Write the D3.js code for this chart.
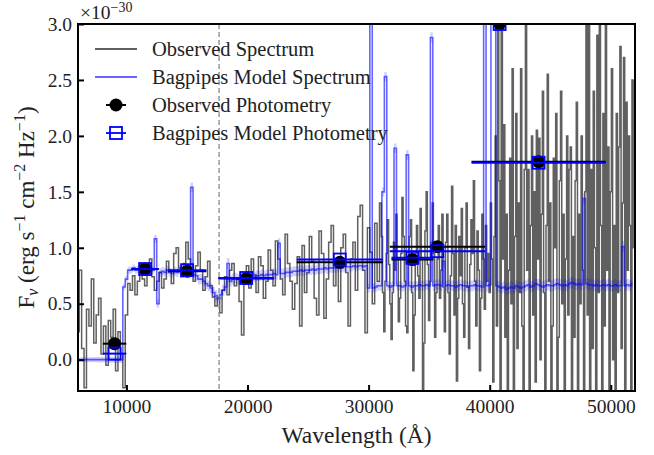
<!DOCTYPE html>
<html><head><meta charset="utf-8">
<script src="https://cdn.jsdelivr.net/npm/d3@7"></script>
<style>
body{margin:0;background:#fff}
svg{display:block}
</style>
</head><body>
<svg id="chart" width="654" height="455"></svg>
<script>
// ---------------- data ----------------
// observed spectrum, part A: 6000-30800 Å on a 200 Å pixel grid
const obsStartA = 6000, obsStepA = 200;
const obsFluxA = [
 0.25, 0.80, 0.10, -0.25, 0.45, 0.30, 0.72, 0.15, 0.40, 0.55, 0.05, 0.30, -0.05, 0.35, 0.20, 0.45, -0.10, 0.25, 0.05, -0.25,
 0.40, 0.68, 0.62, 0.75, 0.58, 0.70, 0.85, 0.72, 0.66, 0.80, 0.90, 0.74, 0.62, 0.70, 0.78, 0.64, 0.72, 0.88, 0.80, 0.68,
 0.95, 1.00, 0.82, 0.74, 0.86, 1.05, 0.90, 0.76, 0.70, 0.84, 0.96, 0.80, 0.62, 0.74, 0.88, 0.66, 0.56, 0.48,
 0.55, 0.42, 0.62, 0.74, 0.58, 0.80, 0.86, 0.66, 0.72, 0.52, 0.22, 0.70, 0.84, 0.64, 0.90, 0.76, 0.60, 0.92, 0.84, 0.55,
 0.70, 0.98, 0.80, 0.66, 1.06, 0.90, 0.72, 0.58, 1.12, 0.86, 0.70, 0.45,
 0.68, 0.92, 0.30, 1.02, 0.60, 0.78, 1.10, 0.88, 0.55, 0.40, 1.15, 0.95, 0.37, 0.72, 1.05, 1.20, 0.66, 0.84, 0.52, 1.00,
 1.12, 0.78, 0.30, 0.90, 1.05, 0.62, 1.28, 1.38, 0.80, 0.24, 1.18, 0.96, 0.50, 1.22, 0.70
];
// observed spectrum, part B: 31000-51900 Å on a 100 Å pixel grid
const obsStartB = 31000, obsStepB = 100;
const obsFluxB = [
 1.40, 1.10, 0.60, 0.25, 0.70, 0.95, 1.25, 0.85, 0.50, 0.18,
 0.60, 1.05, 0.80, 1.30, 0.90, 0.34, 0.55, 0.95, 1.45, 1.10,
 0.70, 0.30, 0.24, 0.85, 1.10, 1.25, 0.60, -0.10, 0.40, 0.95,
 1.20, 0.75, 0.55, 1.35, 0.90, -0.28, 0.15, 1.15, 1.50, 0.85,
 0.35, 0.70, 1.05, 1.40, 0.95, 0.20, 0.60, 0.90, 1.20, 0.55,
 0.80, 1.30, 0.65, 0.25, 1.05, 1.30, 0.60, 0.05, 0.75, 1.55,
 0.95, 0.40, 1.20, -0.19, 0.55, 1.10, 0.75, 1.35, 0.50, 0.20,
 1.00, 1.40, 0.65, 0.10, 0.85, 1.25, 0.95, 1.60, 0.70, 0.30,
 1.15, 0.80, -0.10, 0.55, 1.30, 0.90, 0.45, 1.20, 0.70, 0.95,
 0.60, 1.40, 0.90, -0.20, 1.10, 2.00, 0.30, 3.20, 1.60, -0.30,
 3.20, 0.90, 2.10, 0.20, 1.30, -0.30, 0.80, 1.80, 0.50, 2.60,
 -0.30, 1.10, 2.20, 0.10, 1.40, 0.60, 2.60, 0.30, -0.30, 1.70,
 3.20, 0.80, 1.70, -0.30, 1.20, 2.00, 0.40, 1.50, -0.20, 2.05,
 0.90, 1.98, 0.00, 1.30, 2.40, 0.60, -0.30, 1.20, 2.55, 0.70,
 1.40, -0.30, 0.30, 1.80, 1.00, 2.20, -0.30, 0.20, 1.60, 2.40,
 0.50, 1.30, -0.30, 0.90, 2.00, 0.40, 1.70, 1.90, -0.30, 1.10,
 0.20, 1.60, 2.30, -0.30, 1.30, 0.50, 2.00, 0.80, -0.30, 1.50,
 3.20, 0.40, 3.20, -0.30, 1.70, 0.10, 2.40, 1.00, -0.30, 2.90,
 0.60, 3.20, 1.20, -0.30, 2.20, 0.30, 3.20, 0.80, 1.90, -0.30,
 1.50, 2.60, 0.00, 1.20, -0.30, 2.20, 0.60, 1.90, 2.80, 0.10,
 1.40, 2.70, -0.30, 2.30, 0.80, 2.00, 1.20, -0.30, 2.50, 1.00
];
// Bagpipes model spectrum: 6000-51800 Å on a 200 Å grid
const modelStart = 6000, modelStep = 200;
const modelFlux = [
 0,0,0,0,0,0,0,0,0,0,0,0,0,0,0,0,0,0,0,
 0.65, 0.72, 0.80,
 0.80, 0.82, 0.80, 0.81, 0.83, 0.80, 0.82, 0.80, 0.79, 0.80,
 1.08, 0.50, 0.78,
 0.79, 0.78, 0.80, 0.78, 0.77, 0.79, 0.78, 0.80, 0.78, 0.79, 0.78, 0.77,
 1.54,
 0.76, 0.75, 0.72, 0.72, 0.70, 0.68, 0.66, 0.64, 0.60, 0.57, 0.55, 0.58, 0.62, 0.65,
 0.86,
 0.70, 0.72, 0.73, 0.72, 0.73, 0.74, 0.73, 0.74, 0.74, 0.75, 0.74, 0.75, 0.75, 0.76, 0.75, 0.76, 0.76, 0.76, 0.77, 0.76,
 1.04,
 0.77, 0.77, 0.78, 0.78, 0.78, 0.79, 0.79, 0.79, 0.80, 0.79, 0.80, 0.80, 0.80, 0.81, 0.80, 0.81, 0.81, 0.81,
 0.82, 0.81, 0.82, 0.82, 0.82, 0.82, 0.83, 0.82, 0.83, 0.83, 0.83, 0.83, 0.84, 0.83, 0.84, 0.84, 0.83, 0.84,
 0.64, 3.5, 0.64, 0.65, 0.66, 0.66, 1.50, 2.53, 0.66, 0.65, 0.66, 1.89, 0.66, 0.66, 0.65, 0.66, 1.83,
 0.66, 0.65, 0.66, 0.66, 0.67, 0.66, 0.66, 0.67, 0.66, 2.88, 0.66, 0.67, 0.67, 0.66, 0.88,
 0.66, 0.67, 0.66, 0.66, 0.65, 0.66, 0.67, 0.66, 0.66, 0.65, 0.66, 0.66, 0.67, 0.66, 0.66, 0.65,
 3.5, 0.66, 0.67, 3.5, 3.5,
 0.66, 0.65, 0.64, 0.65, 0.63, 0.64, 0.65, 0.64, 0.66, 0.65, 0.64, 0.65, 0.66, 0.67, 0.65, 0.66, 0.68, 0.67,
 0.66, 0.65, 0.66, 0.67, 0.66, 0.66, 0.67, 0.68, 0.67, 0.66, 0.67, 0.66, 0.68, 0.69, 0.68, 0.67, 0.68, 0.67,
 1.44,
 0.68, 0.67, 0.67, 0.66, 0.67, 0.66, 0.66, 0.67, 0.66, 0.67, 0.66, 0.66, 0.67, 0.66, 0.66,
 1.01, 0.66, 0.67, 0.66, 0.68
];
const bandKnotWave = [6000, 10000, 17600, 30000, 40000, 52000];
const bandKnotHalf = [0.02, 0.03, 0.05, 0.04, 0.05, 0.05];

const photFilters = ["F090W","F115W","F150W","F200W","F277W","F335M","F356W","F410M","F444W"];
const photWave    = [9020, 11540, 15010, 19890, 27620, 33620, 35680, 40820, 44040];
const photHalfW   = [970, 1125, 1590, 2305, 3555, 1735, 3935, 2190, 5540];
const photObs     = [0.143, 0.81, 0.79, 0.725, 0.87, 0.895, 1.01, 3.0, 1.77];
const photModel   = [0.054, 0.81, 0.80, 0.73, 0.895, 0.91, 0.97, 3.0, 1.76];

const xTicks = [10000, 20000, 30000, 40000, 50000];
const yTicks = [0, 0.5, 1.0, 1.5, 2.0, 2.5, 3.0];
const breakWave = 17650;
const legendLabels = ["Observed Spectrum", "Bagpipes Model Spectrum", "Observed Photometry", "Bagpipes Model Photometry"];

// ---------------- chart ----------------
const FONT = '"Liberation Serif", "Times New Roman", serif';
const svg = d3.select("#chart");
const L = 78, R = 635, T = 24, B = 391;
const x = d3.scaleLinear().domain([6000, 52000]).range([L, R]);
const y = d3.scaleLinear().domain([-0.28, 3.0]).range([B, T]);

svg.append("defs").append("clipPath").attr("id", "clip")
  .append("rect").attr("x", L).attr("y", T).attr("width", R - L).attr("height", B - T);

const plot = svg.append("g").attr("clip-path", "url(#clip)");

// observed spectrum
const obsData = obsFluxA.map((f, i) => [obsStartA + i * obsStepA, f])
  .concat(obsFluxB.map((f, i) => [obsStartB + i * obsStepB, f]));
plot.append("path").datum(obsData)
  .attr("fill", "none").attr("stroke", "#606060").attr("stroke-width", 1.5)
  .attr("d", d3.line().x(d => x(d[0])).y(d => y(d[1])).curve(d3.curveStep));

// model band + line
const halfScale = d3.scaleLinear().domain(bandKnotWave).range(bandKnotHalf);
const mData = modelFlux.map((f, i) => [modelStart + i * modelStep, f]);
plot.append("path").datum(mData)
  .attr("fill", "blue").attr("fill-opacity", 0.18).attr("stroke", "none")
  .attr("d", d3.area().x(d => x(d[0])).y0(d => y(d[1] - halfScale(d[0]))).y1(d => y(d[1] + halfScale(d[0]))).curve(d3.curveStep));
plot.append("path").datum(mData)
  .attr("fill", "none").attr("stroke", "blue").attr("stroke-opacity", 0.6).attr("stroke-width", 1.6)
  .attr("d", d3.line().x(d => x(d[0])).y(d => y(d[1])).curve(d3.curveStep));

// break line
svg.append("line").attr("x1", x(breakWave)).attr("x2", x(breakWave)).attr("y1", T).attr("y2", B)
  .attr("stroke", "#808080").attr("stroke-width", 1.2).attr("stroke-dasharray", "5,3");

// photometry
const ph = photWave.map((w, i) => ({w, hw: photHalfW[i], o: photObs[i], m: photModel[i]}));
plot.selectAll(".oerr").data(ph).join("line")
  .attr("x1", d => x(d.w - d.hw)).attr("x2", d => x(d.w + d.hw))
  .attr("y1", d => y(d.o)).attr("y2", d => y(d.o)).attr("stroke", "black").attr("stroke-width", 2);
plot.selectAll(".opt").data(ph).join("circle")
  .attr("cx", d => x(d.w)).attr("cy", d => y(d.o)).attr("r", 6.5).attr("fill", "black");
plot.selectAll(".merr").data(ph).join("line")
  .attr("x1", d => x(d.w - d.hw)).attr("x2", d => x(d.w + d.hw))
  .attr("y1", d => y(d.m)).attr("y2", d => y(d.m)).attr("stroke", "blue").attr("stroke-width", 2);
plot.selectAll(".mpt").data(ph).join("rect")
  .attr("x", d => x(d.w) - 6).attr("y", d => y(d.m) - 6).attr("width", 12).attr("height", 12)
  .attr("fill", "none").attr("stroke", "blue").attr("stroke-width", 1.8);

// axes
const xAxis = d3.axisBottom(x).tickValues(xTicks).tickFormat(d3.format("d")).tickSize(-6).tickPadding(8);
const gx = svg.append("g").attr("transform", `translate(0,${B})`).call(xAxis);
const yAxis = d3.axisLeft(y).tickValues(yTicks).tickFormat(d3.format(".1f")).tickSize(-6).tickPadding(6);
const gy = svg.append("g").attr("transform", `translate(${L},0)`).call(yAxis);
[gx, gy].forEach(g => {
  g.attr("font-family", null);
  g.select(".domain").remove();
  g.selectAll(".tick line").attr("stroke", "black").attr("stroke-width", 2);
  g.selectAll(".tick text").attr("font-size", 19.5).attr("fill", "#222").style("font-family", FONT);
});

// frame
svg.append("rect").attr("x", L).attr("y", T).attr("width", R - L).attr("height", B - T)
  .attr("fill", "none").attr("stroke", "black").attr("stroke-width", 2);

// offset text
const off = svg.append("text").attr("x", 80).attr("y", 19).attr("font-size", 19.5)
  .style("font-family", FONT).attr("fill", "#222");
off.append("tspan").text("×10");
off.append("tspan").attr("dy", -7).attr("font-size", 14).text("−30");

// axis labels
svg.append("text").attr("x", (L + R) / 2).attr("y", 443).attr("text-anchor", "middle")
  .attr("font-size", 23.5).style("font-family", FONT).attr("fill", "#222").text("Wavelength (Å)");
const yl = svg.append("text").attr("transform", `translate(34,${(T + B) / 2}) rotate(-90)`)
  .attr("text-anchor", "middle").attr("font-size", 23).style("font-family", FONT).attr("fill", "#222");
yl.append("tspan").text("F");
yl.append("tspan").attr("dy", 4).attr("font-size", 16).attr("font-style", "italic").text("ν");
yl.append("tspan").attr("dy", -4).text(" (erg s");
yl.append("tspan").attr("dy", -9).attr("font-size", 16).text("−1");
yl.append("tspan").attr("dy", 9).text(" cm");
yl.append("tspan").attr("dy", -9).attr("font-size", 16).text("−2");
yl.append("tspan").attr("dy", 9).text(" Hz");
yl.append("tspan").attr("dy", -9).attr("font-size", 16).text("−1");
yl.append("tspan").attr("dy", 9).text(")");

// legend
const rows = [49, 77, 105, 133];
const lg = svg.append("g");
lg.append("line").attr("x1", 95).attr("x2", 137).attr("y1", rows[0]).attr("y2", rows[0])
  .attr("stroke", "#606060").attr("stroke-width", 2);
lg.append("line").attr("x1", 95).attr("x2", 137).attr("y1", rows[1]).attr("y2", rows[1])
  .attr("stroke", "blue").attr("stroke-opacity", 0.6).attr("stroke-width", 2);
lg.append("line").attr("x1", 106).attr("x2", 126).attr("y1", rows[2]).attr("y2", rows[2])
  .attr("stroke", "black").attr("stroke-width", 2);
lg.append("circle").attr("cx", 116).attr("cy", rows[2]).attr("r", 6.5).attr("fill", "black");
lg.append("line").attr("x1", 106).attr("x2", 126).attr("y1", rows[3]).attr("y2", rows[3])
  .attr("stroke", "blue").attr("stroke-width", 1.8);
lg.append("rect").attr("x", 110).attr("y", rows[3] - 6).attr("width", 12).attr("height", 12)
  .attr("fill", "none").attr("stroke", "blue").attr("stroke-width", 1.8);
legendLabels.forEach((t, i) => {
  lg.append("text").attr("x", 152).attr("y", rows[i] + 6.5).attr("font-size", 20.5)
    .style("font-family", FONT).attr("fill", "#222").text(t);
});
</script>
</body></html>
